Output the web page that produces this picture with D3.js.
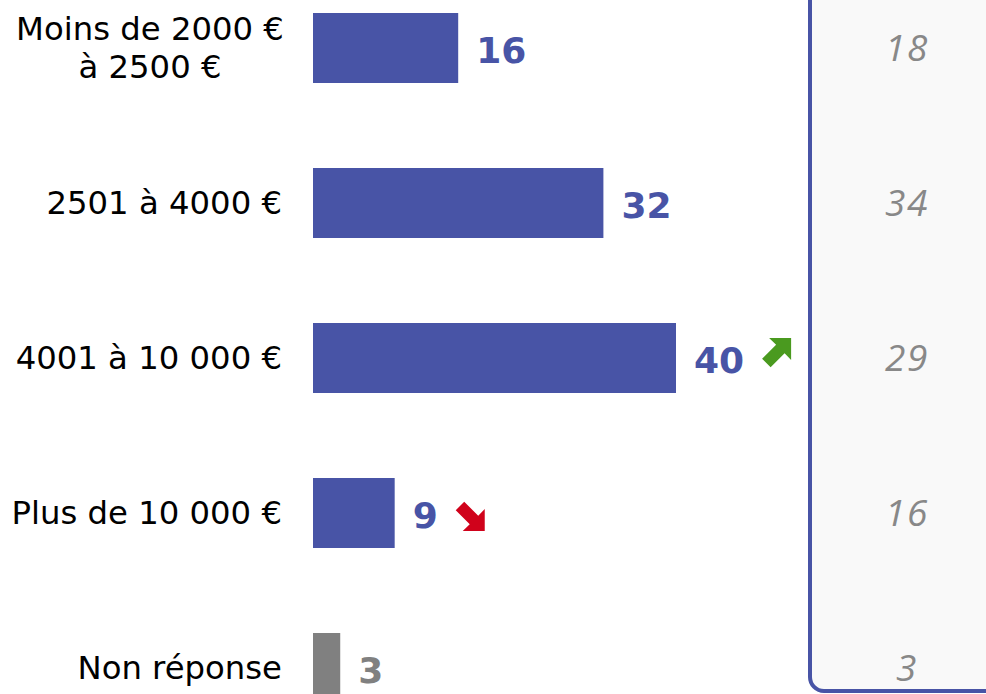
<!DOCTYPE html>
<html>
<head>
<meta charset="utf-8">
<script src="https://cdn.jsdelivr.net/npm/d3@7"></script>
<style>
  html, body { margin: 0; padding: 0; background: #fff; overflow: hidden; }
  svg { display: block; }
</style>
</head>
<body>
<div id="chart"></div>
<script>
// Data
const categories = ["Moins de 2000 €\nà 2500 €", "2501 à 4000 €", "4001 à 10 000 €", "Plus de 10 000 €", "Non réponse"];
const values = [16, 32, 40, 9, 3];
const previous = [18, 34, 29, 16, 3];
const trends = [null, null, "up", "down", null];

const width = 986;
const height = 694;
const blue = "#4854a6";
const grey = "#808080";

const svg = d3.select("#chart")
    .append("svg")
    .attr("width", width)
    .attr("height", height);

const x = d3.scaleLinear().domain([0, 40]).range([313, 676]);
const y = d3.scalePoint().domain(categories).range([48, 668]);
const barH = 70;

// right panel with previous values
svg.append("rect")
    .attr("x", 810)
    .attr("y", -30)
    .attr("width", 220)
    .attr("height", 721)
    .attr("rx", 14)
    .attr("fill", "#f9f9f9")
    .attr("stroke", blue)
    .attr("stroke-width", 4);

svg.append("g")
    .selectAll("text")
    .data(previous)
    .enter().append("text")
    .attr("x", 907)
    .attr("y", (d, i) => y(categories[i]))
    .attr("dy", "0.36em")
    .attr("text-anchor", "middle")
    .attr("font-family", "'Open Sans', sans-serif")
    .attr("font-style", "italic")
    .attr("font-size", 37)
    .attr("letter-spacing", 1.5)
    .attr("fill", "#888")
    .text(d => d);

// bars
svg.append("g")
    .selectAll("rect")
    .data(values)
    .enter().append("rect")
    .attr("x", x(0))
    .attr("y", (d, i) => y(categories[i]) - barH / 2)
    .attr("width", d => x(d) - x(0))
    .attr("height", barH)
    .attr("fill", (d, i) => i === values.length - 1 ? grey : blue);

// category labels
const cat = svg.append("g")
    .selectAll("text")
    .data(categories)
    .enter().append("text")
    .attr("x", 282)
    .attr("y", d => y(d))
    .attr("text-anchor", "end")
    .attr("font-family", "'DejaVu Sans', sans-serif")
    .attr("font-size", 32.3)
    .attr("fill", "#000");

cat.each(function(d) {
    const lines = d.split("\n");
    const lh = 38;
    const t = d3.select(this);
    lines.forEach((l, j) => {
        t.append("tspan")
            .attr("x", lines.length > 1 ? 150 : 282)
            .attr("y", y(d) - 1 + (j - (lines.length - 1) / 2) * lh)
            .attr("dy", "0.36em")
            .attr("text-anchor", lines.length > 1 ? "middle" : "end")
            .text(l);
    });
});

// value labels
const vals = svg.append("g")
    .selectAll("text")
    .data(values)
    .enter().append("text")
    .attr("x", d => x(d) + 18)
    .attr("y", (d, i) => y(categories[i]) + 15)
    .attr("font-family", "'DejaVu Sans', sans-serif")
    .attr("font-weight", "bold")
    .attr("font-size", 36)
    .attr("fill", (d, i) => i === values.length - 1 ? grey : blue)
    .text(d => d);

// trend arrows
const arrowPath = "M7,0L29,0L29,22L22.5,15.25L8.5,29.25L0,20.75L14,6.75Z";
vals.each(function(d, i) {
    if (!trends[i]) return;
    const end = x(d) + 18 + this.getComputedTextLength() + 18;
    const cy = y(categories[i]);
    const g = svg.append("g");
    if (trends[i] === "up") {
        g.attr("transform", `translate(${end},${cy - 20})`);
        g.append("path").attr("d", arrowPath).attr("fill", "#4a9a1f");
    } else {
        g.attr("transform", `translate(${end},${cy + 18}) scale(1,-1)`);
        g.append("path").attr("d", arrowPath).attr("fill", "#d0021b");
    }
});
</script>
</body>
</html>
